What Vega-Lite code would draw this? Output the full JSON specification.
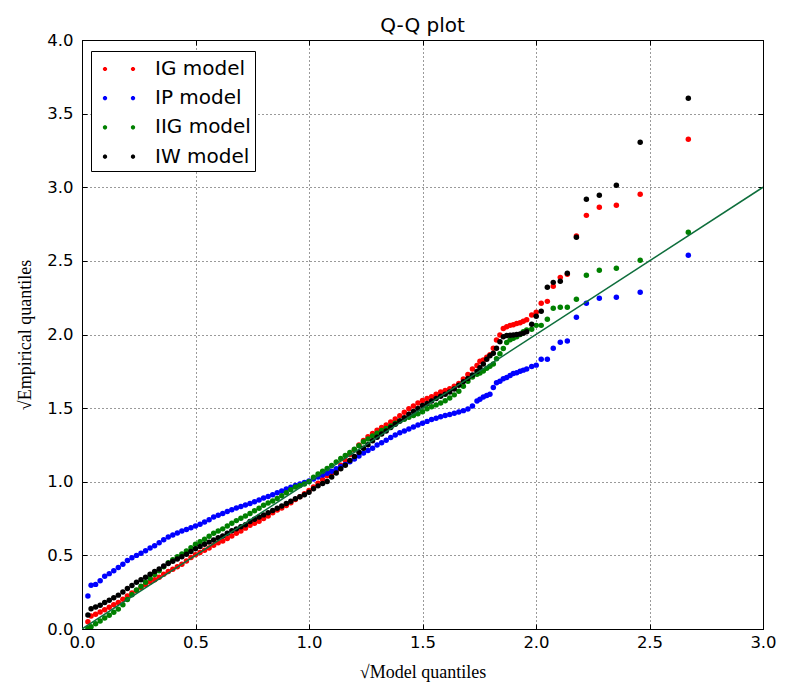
{
  "$schema": "https://vega.github.io/schema/vega-lite/v6.json",
  "width": 681,
  "height": 589,
  "autosize": {"type": "none"},
  "padding": {"left": 82, "top": 40, "right": 31, "bottom": 71},
  "background": "white",
  "title": {"text": "Q-Q plot", "font": "DejaVu Sans", "fontSize": 20, "fontWeight": "normal", "color": "black", "offset": -4},
  "config": {
    "view": {"stroke": "black", "strokeWidth": 1},
    "axis": {
      "labelFont": "DejaVu Sans",
      "labelFontSize": 16.5,
      "labelColor": "black",
      "labelFlush": false,
      "tickColor": "black",
      "tickWidth": 1,
      "tickSize": -5,
      "domain": false,
      "gridColor": "black",
      "gridDash": [1, 3],
      "gridWidth": 0.8,
      "gridOpacity": 1,
      "titleFont": "Liberation Serif",
      "titleFontSize": 18,
      "titleFontWeight": "normal",
      "titleColor": "black"
    }
  },
  "data": {
    "values": [
      {"x": 0.026, "IG": 0.050, "IP": 0.224, "IIG": 0.005, "IW": 0.095},
      {"x": 0.04, "IG": 0.088, "IP": 0.297, "IIG": 0.015, "IW": 0.138},
      {"x": 0.06, "IG": 0.100, "IP": 0.303, "IIG": 0.035, "IW": 0.150},
      {"x": 0.08, "IG": 0.115, "IP": 0.328, "IIG": 0.055, "IW": 0.162},
      {"x": 0.10, "IG": 0.130, "IP": 0.358, "IIG": 0.075, "IW": 0.180},
      {"x": 0.12, "IG": 0.148, "IP": 0.376, "IIG": 0.094, "IW": 0.195},
      {"x": 0.14, "IG": 0.164, "IP": 0.395, "IIG": 0.113, "IW": 0.212},
      {"x": 0.16, "IG": 0.180, "IP": 0.418, "IIG": 0.135, "IW": 0.230},
      {"x": 0.18, "IG": 0.202, "IP": 0.440, "IIG": 0.165, "IW": 0.252},
      {"x": 0.20, "IG": 0.225, "IP": 0.465, "IIG": 0.200, "IW": 0.275},
      {"x": 0.22, "IG": 0.244, "IP": 0.484, "IIG": 0.232, "IW": 0.296},
      {"x": 0.24, "IG": 0.262, "IP": 0.500, "IIG": 0.265, "IW": 0.318},
      {"x": 0.26, "IG": 0.281, "IP": 0.515, "IIG": 0.290, "IW": 0.335},
      {"x": 0.28, "IG": 0.300, "IP": 0.532, "IIG": 0.318, "IW": 0.352},
      {"x": 0.30, "IG": 0.320, "IP": 0.550, "IIG": 0.345, "IW": 0.372},
      {"x": 0.32, "IG": 0.335, "IP": 0.566, "IIG": 0.370, "IW": 0.390},
      {"x": 0.34, "IG": 0.352, "IP": 0.585, "IIG": 0.395, "IW": 0.408},
      {"x": 0.36, "IG": 0.372, "IP": 0.606, "IIG": 0.422, "IW": 0.428},
      {"x": 0.38, "IG": 0.390, "IP": 0.625, "IIG": 0.450, "IW": 0.445},
      {"x": 0.40, "IG": 0.405, "IP": 0.638, "IIG": 0.470, "IW": 0.460},
      {"x": 0.42, "IG": 0.422, "IP": 0.652, "IIG": 0.490, "IW": 0.475},
      {"x": 0.44, "IG": 0.440, "IP": 0.665, "IIG": 0.510, "IW": 0.490},
      {"x": 0.46, "IG": 0.462, "IP": 0.676, "IIG": 0.530, "IW": 0.508},
      {"x": 0.48, "IG": 0.485, "IP": 0.688, "IIG": 0.552, "IW": 0.527},
      {"x": 0.50, "IG": 0.505, "IP": 0.700, "IIG": 0.575, "IW": 0.545},
      {"x": 0.52, "IG": 0.520, "IP": 0.712, "IIG": 0.592, "IW": 0.560},
      {"x": 0.54, "IG": 0.535, "IP": 0.726, "IIG": 0.610, "IW": 0.575},
      {"x": 0.56, "IG": 0.550, "IP": 0.742, "IIG": 0.630, "IW": 0.590},
      {"x": 0.58, "IG": 0.568, "IP": 0.760, "IIG": 0.650, "IW": 0.605},
      {"x": 0.60, "IG": 0.585, "IP": 0.772, "IIG": 0.665, "IW": 0.620},
      {"x": 0.62, "IG": 0.598, "IP": 0.785, "IIG": 0.680, "IW": 0.632},
      {"x": 0.64, "IG": 0.615, "IP": 0.798, "IIG": 0.700, "IW": 0.650},
      {"x": 0.66, "IG": 0.632, "IP": 0.810, "IIG": 0.718, "IW": 0.668},
      {"x": 0.68, "IG": 0.650, "IP": 0.822, "IIG": 0.736, "IW": 0.680},
      {"x": 0.70, "IG": 0.665, "IP": 0.832, "IIG": 0.752, "IW": 0.695},
      {"x": 0.72, "IG": 0.685, "IP": 0.842, "IIG": 0.768, "IW": 0.708},
      {"x": 0.74, "IG": 0.705, "IP": 0.852, "IIG": 0.785, "IW": 0.730},
      {"x": 0.76, "IG": 0.718, "IP": 0.864, "IIG": 0.803, "IW": 0.745},
      {"x": 0.78, "IG": 0.732, "IP": 0.876, "IIG": 0.820, "IW": 0.760},
      {"x": 0.80, "IG": 0.750, "IP": 0.890, "IIG": 0.840, "IW": 0.775},
      {"x": 0.82, "IG": 0.768, "IP": 0.900, "IIG": 0.855, "IW": 0.790},
      {"x": 0.84, "IG": 0.790, "IP": 0.912, "IIG": 0.870, "IW": 0.805},
      {"x": 0.86, "IG": 0.808, "IP": 0.925, "IIG": 0.887, "IW": 0.820},
      {"x": 0.88, "IG": 0.822, "IP": 0.937, "IIG": 0.905, "IW": 0.835},
      {"x": 0.90, "IG": 0.838, "IP": 0.950, "IIG": 0.925, "IW": 0.852},
      {"x": 0.92, "IG": 0.858, "IP": 0.962, "IIG": 0.945, "IW": 0.868},
      {"x": 0.94, "IG": 0.880, "IP": 0.975, "IIG": 0.965, "IW": 0.885},
      {"x": 0.96, "IG": 0.898, "IP": 0.985, "IIG": 0.975, "IW": 0.898},
      {"x": 0.98, "IG": 0.918, "IP": 0.995, "IIG": 0.985, "IW": 0.912},
      {"x": 1.00, "IG": 0.940, "IP": 1.005, "IIG": 1.000, "IW": 0.928},
      {"x": 1.02, "IG": 0.965, "IP": 1.018, "IIG": 1.030, "IW": 0.952},
      {"x": 1.04, "IG": 0.990, "IP": 1.032, "IIG": 1.052, "IW": 0.972},
      {"x": 1.06, "IG": 1.015, "IP": 1.045, "IIG": 1.072, "IW": 0.988},
      {"x": 1.08, "IG": 1.040, "IP": 1.058, "IIG": 1.090, "IW": 1.002},
      {"x": 1.10, "IG": 1.060, "IP": 1.072, "IIG": 1.110, "IW": 1.032},
      {"x": 1.12, "IG": 1.078, "IP": 1.088, "IIG": 1.135, "IW": 1.060},
      {"x": 1.14, "IG": 1.112, "IP": 1.102, "IIG": 1.158, "IW": 1.088},
      {"x": 1.16, "IG": 1.145, "IP": 1.118, "IIG": 1.178, "IW": 1.112},
      {"x": 1.18, "IG": 1.185, "IP": 1.136, "IIG": 1.198, "IW": 1.145},
      {"x": 1.20, "IG": 1.218, "IP": 1.155, "IIG": 1.220, "IW": 1.172},
      {"x": 1.22, "IG": 1.250, "IP": 1.175, "IIG": 1.245, "IW": 1.200},
      {"x": 1.24, "IG": 1.280, "IP": 1.195, "IIG": 1.272, "IW": 1.228},
      {"x": 1.26, "IG": 1.305, "IP": 1.212, "IIG": 1.290, "IW": 1.252},
      {"x": 1.28, "IG": 1.328, "IP": 1.228, "IIG": 1.310, "IW": 1.278},
      {"x": 1.30, "IG": 1.350, "IP": 1.250, "IIG": 1.330, "IW": 1.302},
      {"x": 1.32, "IG": 1.368, "IP": 1.265, "IIG": 1.348, "IW": 1.325},
      {"x": 1.34, "IG": 1.385, "IP": 1.282, "IIG": 1.362, "IW": 1.345},
      {"x": 1.36, "IG": 1.405, "IP": 1.300, "IIG": 1.378, "IW": 1.368},
      {"x": 1.38, "IG": 1.426, "IP": 1.318, "IIG": 1.398, "IW": 1.390},
      {"x": 1.40, "IG": 1.448, "IP": 1.332, "IIG": 1.412, "IW": 1.412},
      {"x": 1.42, "IG": 1.472, "IP": 1.345, "IIG": 1.425, "IW": 1.435},
      {"x": 1.44, "IG": 1.495, "IP": 1.358, "IIG": 1.438, "IW": 1.458},
      {"x": 1.46, "IG": 1.515, "IP": 1.372, "IIG": 1.450, "IW": 1.478},
      {"x": 1.48, "IG": 1.535, "IP": 1.385, "IIG": 1.462, "IW": 1.498},
      {"x": 1.50, "IG": 1.552, "IP": 1.398, "IIG": 1.476, "IW": 1.518},
      {"x": 1.52, "IG": 1.566, "IP": 1.410, "IIG": 1.495, "IW": 1.532},
      {"x": 1.54, "IG": 1.578, "IP": 1.422, "IIG": 1.510, "IW": 1.548},
      {"x": 1.56, "IG": 1.595, "IP": 1.432, "IIG": 1.522, "IW": 1.565},
      {"x": 1.58, "IG": 1.610, "IP": 1.442, "IIG": 1.535, "IW": 1.580},
      {"x": 1.60, "IG": 1.620, "IP": 1.450, "IIG": 1.550, "IW": 1.595},
      {"x": 1.62, "IG": 1.632, "IP": 1.457, "IIG": 1.568, "IW": 1.610},
      {"x": 1.64, "IG": 1.648, "IP": 1.465, "IIG": 1.590, "IW": 1.630},
      {"x": 1.66, "IG": 1.668, "IP": 1.474, "IIG": 1.615, "IW": 1.655},
      {"x": 1.68, "IG": 1.698, "IP": 1.483, "IIG": 1.648, "IW": 1.680},
      {"x": 1.70, "IG": 1.728, "IP": 1.494, "IIG": 1.682, "IW": 1.702},
      {"x": 1.72, "IG": 1.765, "IP": 1.515, "IIG": 1.712, "IW": 1.725},
      {"x": 1.74, "IG": 1.790, "IP": 1.548, "IIG": 1.730, "IW": 1.748},
      {"x": 1.753, "IG": 1.818, "IP": 1.560, "IIG": 1.738, "IW": 1.775},
      {"x": 1.768, "IG": 1.827, "IP": 1.575, "IIG": 1.752, "IW": 1.800},
      {"x": 1.783, "IG": 1.845, "IP": 1.585, "IIG": 1.770, "IW": 1.832},
      {"x": 1.797, "IG": 1.862, "IP": 1.595, "IIG": 1.785, "IW": 1.855},
      {"x": 1.812, "IG": 1.906, "IP": 1.640, "IIG": 1.800, "IW": 1.872},
      {"x": 1.826, "IG": 1.963, "IP": 1.672, "IIG": 1.835, "IW": 1.906},
      {"x": 1.841, "IG": 1.997, "IP": 1.682, "IIG": 1.870, "IW": 1.951},
      {"x": 1.856, "IG": 2.040, "IP": 1.700, "IIG": 1.905, "IW": 1.985},
      {"x": 1.871, "IG": 2.053, "IP": 1.708, "IIG": 1.945, "IW": 1.993},
      {"x": 1.886, "IG": 2.062, "IP": 1.722, "IIG": 1.965, "IW": 1.995},
      {"x": 1.900, "IG": 2.066, "IP": 1.735, "IIG": 1.975, "IW": 1.997},
      {"x": 1.915, "IG": 2.074, "IP": 1.740, "IIG": 1.985, "IW": 2.000},
      {"x": 1.930, "IG": 2.080, "IP": 1.750, "IIG": 2.000, "IW": 2.004},
      {"x": 1.944, "IG": 2.090, "IP": 1.758, "IIG": 2.019, "IW": 2.008},
      {"x": 1.959, "IG": 2.100, "IP": 1.765, "IIG": 2.030, "IW": 2.019},
      {"x": 1.981, "IG": 2.132, "IP": 1.782, "IIG": 2.036, "IW": 2.070},
      {"x": 2.001, "IG": 2.151, "IP": 1.792, "IIG": 2.062, "IW": 2.124},
      {"x": 2.023, "IG": 2.212, "IP": 1.832, "IIG": 2.062, "IW": 2.158},
      {"x": 2.050, "IG": 2.225, "IP": 1.832, "IIG": 2.103, "IW": 2.321},
      {"x": 2.076, "IG": 2.327, "IP": 1.906, "IIG": 2.178, "IW": 2.354},
      {"x": 2.107, "IG": 2.388, "IP": 1.947, "IIG": 2.185, "IW": 2.361},
      {"x": 2.138, "IG": 2.409, "IP": 1.956, "IIG": 2.185, "IW": 2.416},
      {"x": 2.178, "IG": 2.669, "IP": 2.117, "IIG": 2.239, "IW": 2.660},
      {"x": 2.222, "IG": 2.809, "IP": 2.212, "IIG": 2.402, "IW": 2.918},
      {"x": 2.279, "IG": 2.864, "IP": 2.246, "IIG": 2.436, "IW": 2.945},
      {"x": 2.354, "IG": 2.877, "IP": 2.253, "IIG": 2.450, "IW": 3.013},
      {"x": 2.459, "IG": 2.952, "IP": 2.287, "IIG": 2.504, "IW": 3.305},
      {"x": 2.671, "IG": 3.326, "IP": 2.538, "IIG": 2.694, "IW": 3.604}
    ]
  },
  "layer": [
    {
      "transform": [{"fold": ["IG"], "as": ["model", "q"]}],
      "mark": {"type": "circle", "size": 30, "opacity": 1, "clip": true},
      "encoding": {
        "x": {
          "field": "x",
          "type": "quantitative",
          "scale": {"domain": [0, 3], "nice": false},
          "axis": {
            "values": [0, 0.5, 1, 1.5, 2, 2.5, 3],
            "format": ".1f",
            "grid": true,
            "labelPadding": 10,
            "title": "√Model quantiles",
            "titlePadding": 13
          }
        },
        "y": {
          "field": "q",
          "type": "quantitative",
          "scale": {"domain": [0, 4], "nice": false},
          "axis": {
            "values": [0, 0.5, 1, 1.5, 2, 2.5, 3, 3.5, 4],
            "format": ".1f",
            "grid": true,
            "labelPadding": 14,
            "title": "√Empirical quantiles",
            "titlePadding": 12
          }
        },
        "color": {
          "field": "model",
          "type": "nominal",
          "scale": {
            "domain": ["IG", "IP", "IIG", "IW"],
            "range": ["#ff0000", "#0000ff", "#008000", "#000000"]
          },
          "legend": {
            "orient": "none",
            "legendX": 9,
            "legendY": 11,
            "title": null,
            "direction": "vertical",
            "labelExpr": "datum.label + ' model'",
            "labelFont": "DejaVu Sans",
            "labelFontSize": 20,
            "labelColor": "black",
            "symbolType": "M-0.85,0.06L-0.94,0.15L-1.06,0.15L-1.15,0.06L-1.15,-0.06L-1.06,-0.15L-0.94,-0.15L-0.85,-0.06ZM1.15,0.06L1.06,0.15L0.94,0.15L0.85,0.06L0.85,-0.06L0.94,-0.15L1.06,-0.15L1.15,-0.06Z",
            "symbolSize": 784,
            "symbolStrokeWidth": 0,
            "symbolOpacity": 1,
            "padding": 4,
            "symbolOffset": 10,
            "labelOffset": 22,
            "rowPadding": 5.2,
            "strokeColor": "black",
            "fillColor": "white",
            "cornerRadius": 0
          }
        }
      }
    },
    {
      "transform": [{"fold": ["IP"], "as": ["model", "q"]}],
      "mark": {"type": "circle", "size": 30, "opacity": 1, "clip": true},
      "encoding": {
        "x": {"field": "x", "type": "quantitative", "axis": null},
        "y": {"field": "q", "type": "quantitative", "axis": null},
        "color": {"field": "model", "type": "nominal"}
      }
    },
    {
      "transform": [{"fold": ["IIG"], "as": ["model", "q"]}],
      "mark": {"type": "circle", "size": 30, "opacity": 1, "clip": true},
      "encoding": {
        "x": {"field": "x", "type": "quantitative", "axis": null},
        "y": {"field": "q", "type": "quantitative", "axis": null},
        "color": {"field": "model", "type": "nominal"}
      }
    },
    {
      "transform": [{"fold": ["IW"], "as": ["model", "q"]}],
      "mark": {"type": "circle", "size": 30, "opacity": 1, "clip": true},
      "encoding": {
        "x": {"field": "x", "type": "quantitative", "axis": null},
        "y": {"field": "q", "type": "quantitative", "axis": null},
        "color": {"field": "model", "type": "nominal"}
      }
    },
    {
      "data": {"values": [{"x": 0, "q": 0}, {"x": 3, "q": 3}]},
      "mark": {"type": "line", "color": "#0e6e3c", "strokeWidth": 1.5, "clip": true},
      "encoding": {
        "x": {
          "field": "x",
          "type": "quantitative",
          "axis": {"orient": "top", "values": [0, 0.5, 1, 1.5, 2, 2.5, 3], "labels": false, "title": null, "grid": false}
        },
        "y": {
          "field": "q",
          "type": "quantitative",
          "axis": {"orient": "right", "values": [0, 0.5, 1, 1.5, 2, 2.5, 3, 3.5, 4], "labels": false, "title": null, "grid": false}
        }
      }
    }
  ],
  "resolve": {"axis": {"x": "independent", "y": "independent"}}
}
